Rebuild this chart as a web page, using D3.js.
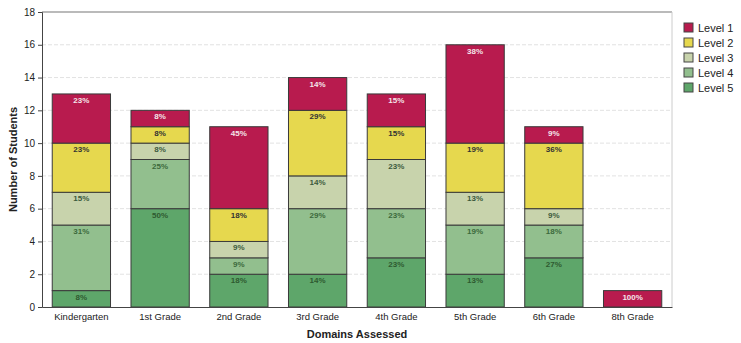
<!DOCTYPE html>
<html>
<head>
<meta charset="utf-8">
<script src="https://cdn.jsdelivr.net/npm/d3@7"></script>
<style>
html,body{margin:0;padding:0;background:#fff;}
svg{display:block;font-family:"Liberation Sans",Arial,sans-serif;}
</style>
</head>
<body>
<svg id="chart" width="741" height="343"></svg>
<script>
const categories = ["Kindergarten","1st Grade","2nd Grade","3rd Grade","4th Grade","5th Grade","6th Grade","8th Grade"];
const levels = ["Level 1","Level 2","Level 3","Level 4","Level 5"];
const level5 = [1,6,2,2,3,2,3,0];
const level4 = [4,3,1,4,3,3,2,0];
const level3 = [2,1,1,2,3,2,1,0];
const level2 = [3,1,2,4,2,3,4,0];
const level1 = [3,1,5,2,2,6,1,1];
const yTicks = [0,2,4,6,8,10,12,14,16,18];
const colors = ["#b81b4e","#e6d84e","#c8d3ac","#92bf8e","#5ea66a"];
const textColors = ["#f4e6ea","#333","#3c5a3c","#3c6a3c","#2e5a30"];

const svg = d3.select("#chart");
const margin = {left:42, right:69, top:12, bottom:36};
const W = 741, H = 343;
const x = d3.scaleBand().domain(categories).range([margin.left, W - margin.right]).paddingInner(0.26).paddingOuter(0.13);
const y = d3.scaleLinear().domain([0,18]).range([H - margin.bottom, margin.top]);

// grid
svg.append("g").selectAll("line").data(yTicks.slice(1,-1)).join("line")
  .attr("x1", margin.left).attr("x2", W - margin.right)
  .attr("y1", d => y(d)).attr("y2", d => y(d))
  .attr("stroke", "#e2e2e2").attr("stroke-width", 1).attr("stroke-dasharray","4,2");

// frame
svg.append("line").attr("x1", margin.left).attr("x2", W - margin.right)
  .attr("y1", y(18)).attr("y2", y(18)).attr("stroke","#777").attr("stroke-width",1.2);
svg.append("line").attr("x1", W - margin.right).attr("x2", W - margin.right)
  .attr("y1", y(18)).attr("y2", y(0)).attr("stroke","#ccc");

// stack data (bottom-up: level5 .. level1)
const series = [level5, level4, level3, level2, level1];
const seriesIdx = [4,3,2,1,0];
const segs = [];
categories.forEach((c, i) => {
  const total = series.reduce((s, arr) => s + arr[i], 0);
  let base = 0;
  series.forEach((arr, k) => {
    const v = arr[i];
    if (v > 0) segs.push({c, y0: base, y1: base + v, lvl: seriesIdx[k], pct: Math.round(v / total * 100)});
    base += v;
  });
});

const g = svg.append("g");
g.selectAll("rect").data(segs).join("rect")
  .attr("x", d => x(d.c)).attr("width", x.bandwidth())
  .attr("y", d => y(d.y1)).attr("height", d => y(d.y0) - y(d.y1))
  .attr("fill", d => colors[d.lvl]).attr("stroke", "#3a3a3a").attr("stroke-width", 1);

g.selectAll("text").data(segs).join("text")
  .attr("x", d => x(d.c) + x.bandwidth()/2).attr("y", d => y(d.y1) + 9)
  .attr("text-anchor","middle").attr("font-size", 8).attr("font-weight","bold")
  .attr("fill", d => textColors[d.lvl]).text(d => d.pct + "%");

// axes
const yAxis = svg.append("g").attr("transform", `translate(${margin.left},0)`)
  .call(d3.axisLeft(y).tickValues(yTicks).tickSize(4).tickFormat(d3.format("d")));
yAxis.select(".domain").attr("stroke","#444");
yAxis.selectAll("line").attr("stroke","#444");
yAxis.selectAll("text").attr("font-size", 10).attr("fill","#222").attr("font-family","Liberation Sans, Arial");

const xAxis = svg.append("g").attr("transform", `translate(0,${y(0)})`)
  .call(d3.axisBottom(x).tickSize(0).tickPadding(6));
xAxis.select(".domain").attr("stroke","#444");
xAxis.selectAll("text").attr("font-size", 9.5).attr("fill","#222").attr("font-family","Liberation Sans, Arial");

svg.append("text").attr("x", (margin.left + W - margin.right)/2).attr("y", 338)
  .attr("text-anchor","middle").attr("font-size", 11).attr("font-weight","bold").attr("fill","#222")
  .text("Domains Assessed");
svg.append("text").attr("transform", `translate(17,${(y(0)+y(18))/2}) rotate(-90)`)
  .attr("text-anchor","middle").attr("font-size", 11).attr("font-weight","bold").attr("fill","#222")
  .text("Number of Students");

// legend
const lg = svg.append("g").attr("transform","translate(684,23)");
levels.forEach((l, i) => {
  const row = lg.append("g").attr("transform", `translate(0,${i*15})`);
  row.append("rect").attr("width", 9).attr("height", 9).attr("fill", colors[i]).attr("stroke","#444");
  row.append("text").attr("x", 14).attr("y", 8.5).attr("font-size", 11).attr("fill","#222").text(l);
});
</script>
</body>
</html>
